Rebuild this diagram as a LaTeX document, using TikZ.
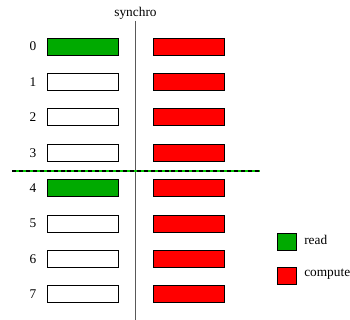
\documentclass[tikz,border=0pt]{standalone}
\usepackage{fontspec}
\setmainfont{Liberation Serif}
\definecolor{readgreen}{RGB}{0,170,0}
\definecolor{computered}{RGB}{255,0,0}
\tikzset{
  slot/.style={draw=black, line width=0.6pt, minimum width=71*0.75pt, minimum height=17*0.75pt, inner sep=0pt, anchor=center},
  readslot/.style={slot, fill=readgreen},
  idleslot/.style={slot, fill=white},
  computeslot/.style={slot, fill=computered},
  legendbox/.style={draw=black, line width=0.6pt, minimum width=19*0.75pt, minimum height=17*0.75pt, inner sep=0pt},
  lbl/.style={font=\fontsize{10}{12}\selectfont, inner sep=0pt}
}
\begin{document}
\begin{tikzpicture}[x=0.75pt, y=-0.75pt]
\useasboundingbox (0,0) rectangle (350,320);
% synchronisation axis
\node[lbl] (sync) at (135.5,13) {synchro};
\coordinate (axtop) at (135.5,21);
\coordinate (axbot) at (135.5,320);
\draw[gray!70!black, line width=0.8pt] (axtop) -- (axbot);
% worker rows
\foreach \i in {0,...,7} {
  \pgfmathsetmacro{\yy}{46.5+35.4*\i}
  \node[lbl] (n\i) at (33,\yy) {\i};
  \ifnum\i=0
    \node[readslot] (r\i) at (82.5,\yy) {};
  \else\ifnum\i=4
    \node[readslot] (r\i) at (82.5,\yy) {};
  \else
    \node[idleslot] (r\i) at (82.5,\yy) {};
  \fi\fi
  \node[computeslot] (c\i) at (188.5,\yy) {};
}
% half separator
\coordinate (sepL) at (12,171);
\coordinate (sepR) at (260,171);
\draw[green!80!black, line width=1pt] (sepL) -- (sepR);
\draw[black, line width=1pt, dash pattern=on 3pt off 2.2pt] (sepL) -- (sepR);
% legend
\node[legendbox, fill=readgreen] (lg) at (286.5,241.5) {};
\node[lbl, anchor=west] (lgt) at (304,240) {read};
\node[legendbox, fill=computered] (lr) at (286.5,275.5) {};
\node[lbl, anchor=west] (lrt) at (304,274.5) {compute};
\end{tikzpicture}
\end{document}
